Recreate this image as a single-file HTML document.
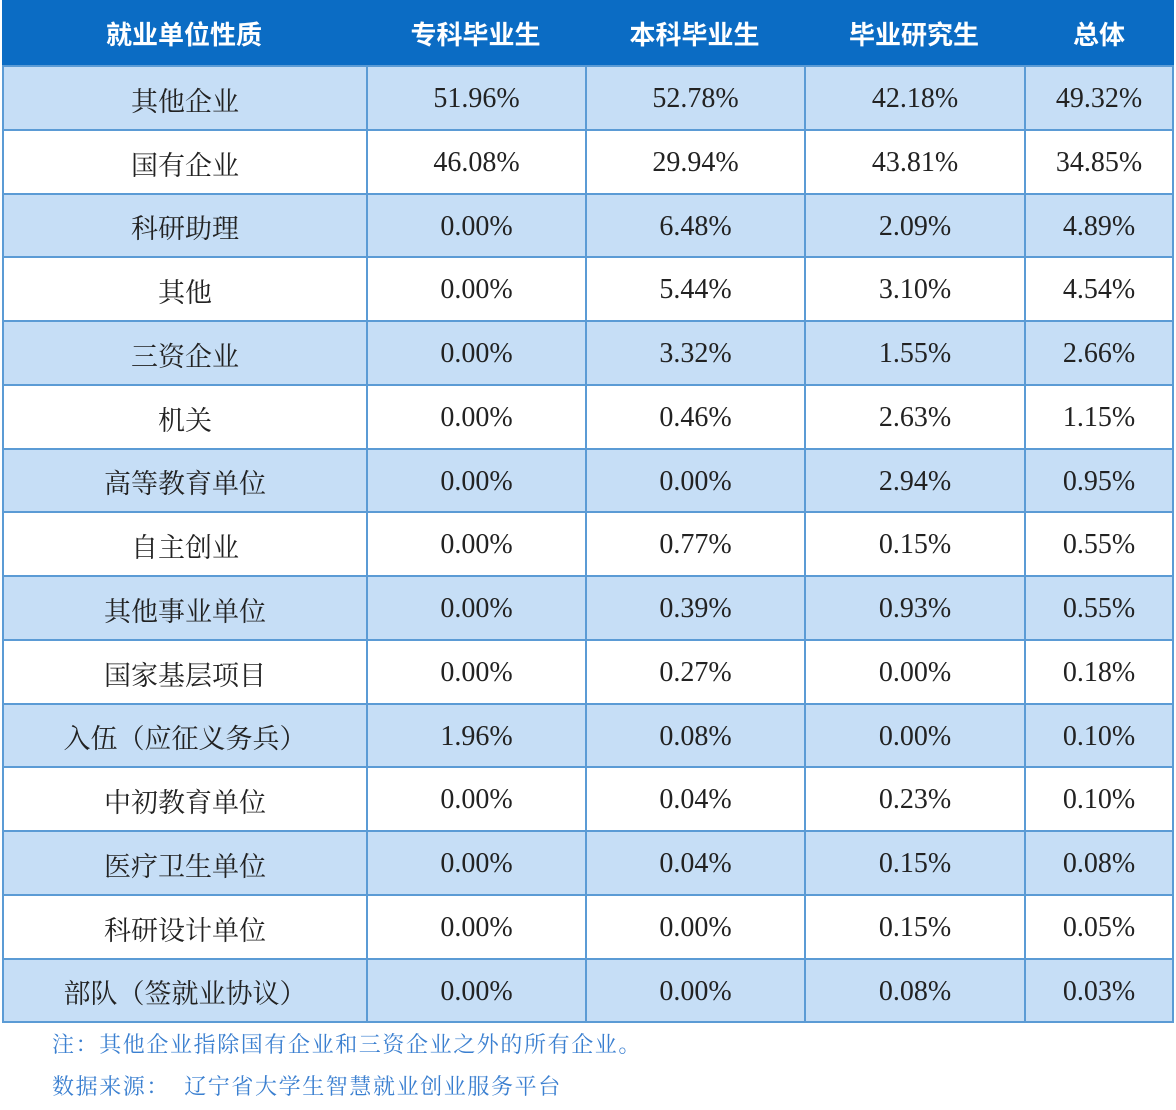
<!DOCTYPE html>
<html><head><meta charset="utf-8"><style>
body{margin:0;width:1176px;height:1110px;background:#fff;position:relative;overflow:hidden}
.c{position:absolute;display:flex;align-items:center;justify-content:center;box-sizing:border-box;font-family:"Liberation Serif","Noto Serif CJK SC",serif;font-size:27px;color:#222;padding-top:2px}
.num{font-size:28px}
.h{color:#fff;font-family:"Liberation Sans","Noto Sans CJK SC",sans-serif;font-weight:bold;font-size:26px;background:#0b6cc4;padding-top:0}
.n{position:absolute;left:52px;font-family:"Liberation Serif","Noto Serif CJK SC",serif;font-size:22px;letter-spacing:1.6px;color:#3a7fd0}
</style></head><body>
<div id="t"></div>
<div class="n" style="top:1028px">注：其他企业指除国有企业和三资企业之外的所有企业。</div>
<div class="n" style="top:1070px">数据来源：&nbsp;&nbsp;辽宁省大学生智慧就业创业服务平台</div>
<script>
const xs=[2,366,585,804,1024,1174];
const H=["就业单位性质","专科毕业生","本科毕业生","毕业研究生","总体"];
const R=[["其他企业","51.96%","52.78%","42.18%","49.32%"],["国有企业","46.08%","29.94%","43.81%","34.85%"],["科研助理","0.00%","6.48%","2.09%","4.89%"],["其他","0.00%","5.44%","3.10%","4.54%"],["三资企业","0.00%","3.32%","1.55%","2.66%"],["机关","0.00%","0.46%","2.63%","1.15%"],["高等教育单位","0.00%","0.00%","2.94%","0.95%"],["自主创业","0.00%","0.77%","0.15%","0.55%"],["其他事业单位","0.00%","0.39%","0.93%","0.55%"],["国家基层项目","0.00%","0.27%","0.00%","0.18%"],["入伍（应征义务兵）","1.96%","0.08%","0.00%","0.10%"],["中初教育单位","0.00%","0.04%","0.23%","0.10%"],["医疗卫生单位","0.00%","0.04%","0.15%","0.08%"],["科研设计单位","0.00%","0.00%","0.15%","0.05%"],["部队（签就业协议）","0.00%","0.00%","0.08%","0.03%"]];
let s='<div class="c h" style="left:2px;top:0;width:1172px;height:66px"></div>';
for(let i=0;i<5;i++)s+=`<div class="c h" style="left:${xs[i]}px;top:0;width:${xs[i+1]-xs[i]}px;height:66px">${H[i]}</div>`;
R.forEach((r,j)=>{const y0=Math.round(65+j*63.75),y1=Math.round(65+(j+1)*63.75);
for(let i=0;i<5;i++)s+=`<div class="c${i>0?' num':''}" style="left:${xs[i]}px;top:${y0}px;width:${xs[i+1]-xs[i]+(i==4?0:2)}px;height:${y1-y0+2}px;border:2px solid #5b9bd5;background:${j%2==0?'#c6def6':'#fff'}">${r[i]}</div>`;});
document.getElementById('t').innerHTML=s;
</script>
</body></html>
